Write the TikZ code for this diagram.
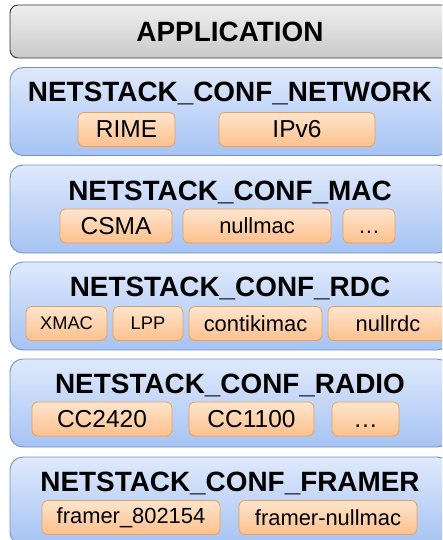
\documentclass[tikz,border=0pt]{standalone}
\usepackage{fontspec}
\setmainfont{Liberation Sans}
\usetikzlibrary{positioning}

\definecolor{layertop}{HTML}{DFE9FC}
\definecolor{layerbot}{HTML}{A6C3F3}
\definecolor{layerline}{HTML}{6F93C8}
\definecolor{modtop}{HTML}{FEE5CE}
\definecolor{modbot}{HTML}{FCC08C}
\definecolor{modline}{HTML}{E9A15E}
\definecolor{apptop}{HTML}{EFEFEF}
\definecolor{appbot}{HTML}{C9C9C9}

\newcommand{\titlesize}{\fontsize{27.9}{30}\selectfont\bfseries}
\newcommand{\bigmod}{\fontsize{24.5}{26}\selectfont}
\newcommand{\midmod}{\fontsize{21.9}{24}\selectfont}
\newcommand{\smallmod}{\fontsize{18.3}{20}\selectfont}
\newcommand{\moremods}{\vphantom{A}\dots}

\tikzset{
  app/.style={draw=black!80, line width=0.9pt, rounded corners=8pt,
    top color=apptop, bottom color=appbot, minimum width=440pt,
    minimum height=53pt, inner sep=0pt, font=\titlesize},
  layer/.style={draw=layerline, line width=0.9pt, rounded corners=13pt,
    top color=layertop, bottom color=layerbot, minimum width=440pt,
    minimum height=88pt, inner sep=0pt},
  layertitle/.style={inner sep=0pt, font=\titlesize},
  module/.style={draw=modline, line width=0.8pt, rounded corners=6pt,
    top color=modtop, bottom color=modbot, minimum height=34pt,
    inner sep=0pt, font=\midmod}
}

\begin{document}
\begin{tikzpicture}[x=1pt, y=-1pt]
  \useasboundingbox (0,0) rectangle (442,540);
  \clip (0,0) rectangle (442,540);

  \node[app] (app) at (230,31.5) {APPLICATION};

  \node[layer] (network) at (230,111.5) {};
  \node[layertitle] (networktitle) at (230,93) {NETSTACK\_CONF\_NETWORK};
  \node[module, minimum width=97pt, font=\bigmod] (rime) at (126.5,129.5) {RIME};
  \node[module, minimum width=156pt, font=\bigmod] (ipv6) at (297,129.5) {IPv6};

  \node[layer] (mac) at (230,209) {};
  \node[layertitle] (mactitle) at (230,192) {NETSTACK\_CONF\_MAC};
  \node[module, minimum width=112pt, font=\bigmod] (csma) at (116,226) {CSMA};
  \node[module, minimum width=148pt] (nullmac) at (257,226) {nullmac};
  \node[module, minimum width=52pt] (macmore) at (369,226) {\moremods};

  \node[layer] (rdc) at (230,306) {};
  \node[layertitle] (rdctitle) at (230,288) {NETSTACK\_CONF\_RDC};
  \node[module, minimum width=81pt, font=\smallmod] (xmac) at (66.5,323.5) {XMAC};
  \node[module, minimum width=70pt, font=\smallmod] (lpp) at (148,323.5) {LPP};
  \node[module, minimum width=133pt] (contikimac) at (255.5,323.5) {contikimac};
  \node[module, minimum width=120pt] (nullrdc) at (388,323.5) {nullrdc};

  \node[layer] (radio) at (230,403) {};
  \node[layertitle] (radiotitle) at (230,385) {NETSTACK\_CONF\_RADIO};
  \node[module, minimum width=140pt, font=\bigmod] (cctwo) at (102,419) {CC2420};
  \node[module, minimum width=125pt, font=\bigmod] (ccone) at (251.5,419) {CC1100};
  \node[module, minimum width=67pt, font=\bigmod] (radiomore) at (365.5,419) {\moremods};

  \node[layer] (framer) at (230,501) {};
  \node[layertitle] (framertitle) at (230,483) {NETSTACK\_CONF\_FRAMER};
  \node[module, minimum width=178pt] (framerieee) at (131,517.5) {framer\_802154};
  \node[module, minimum width=178pt] (framernull) at (328,517.5) {framer-nullmac};
\end{tikzpicture}
\end{document}
